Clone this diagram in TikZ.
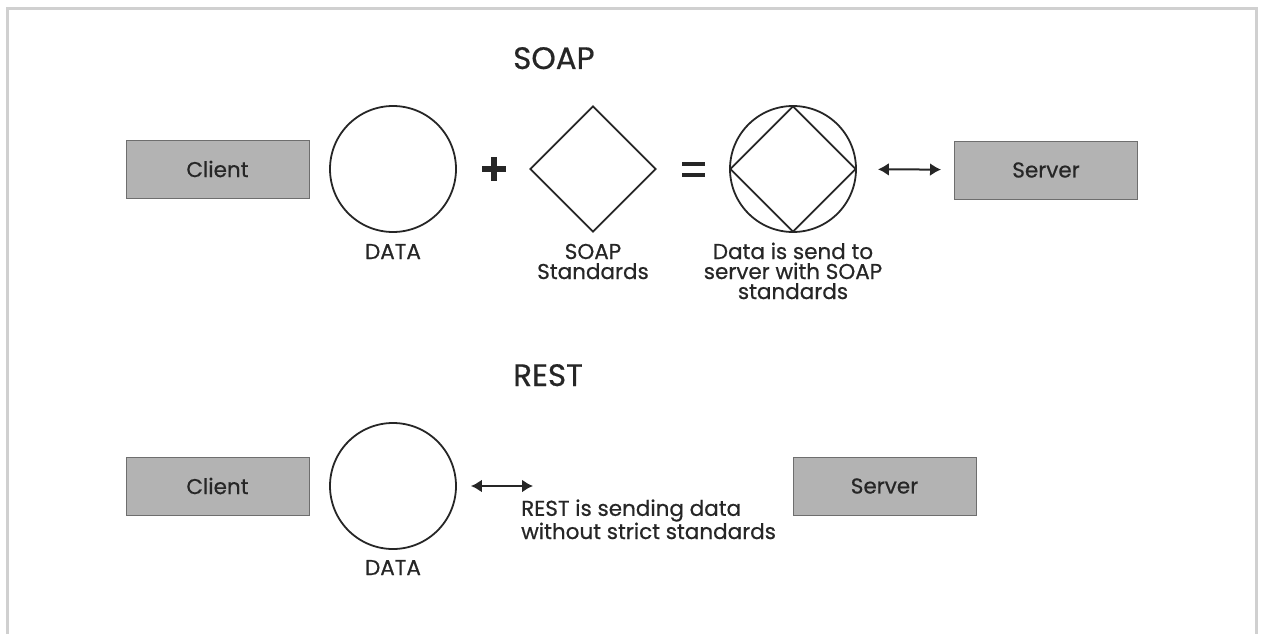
\documentclass[tikz,border=0pt]{standalone}
\usepackage{fontspec}
\setmainfont{Poppins}[FakeBold=0.6]
\usetikzlibrary{shapes.geometric,arrows.meta}
\definecolor{boxgray}{HTML}{B3B3B3}
\definecolor{boxedge}{HTML}{6E6E6E}
\definecolor{ink}{HTML}{262626}
\definecolor{framegray}{HTML}{D0D0D0}

\begin{document}
\begin{tikzpicture}[x=1pt, y=-1pt]
        \tikzstyle{every node}=[text=ink, inner sep=0pt]
        \tikzstyle{box}=[rectangle, fill=boxgray, draw=boxedge, line width=1pt, minimum width=183pt, minimum height=58pt, font=\fontsize{21.5}{22}\selectfont]
        \tikzstyle{blob}=[circle, draw=ink, line width=1.8pt, minimum size=126pt]
        \tikzstyle{rule}=[diamond, draw=ink, line width=1.8pt, minimum size=126pt]
        \tikzstyle{lbl}=[align=center, anchor=base, font=\fontsize{21.5}{20}\selectfont]
        \tikzstyle{title}=[anchor=base west, font=\fontsize{31}{32}\selectfont]
        \tikzstyle{link}=[draw=ink, line width=2pt, {Latex[length=11pt,width=13pt]}-{Latex[length=11pt,width=13pt]}]
        \useasboundingbox (0,0) rectangle (1263,634);
        \draw[framegray, line width=3pt] (7,634) -- (7,9) -- (1256,9) -- (1256,634);
        % SOAP
        \node [title] (soap) at (513,69) {SOAP};
        \node [box] (client1) at (217.5,169) {Client};
        \node [blob] (data1) at (393,169) {};
        \node [lbl] (data1lbl) at (393,259) {DATA};
        \draw [ink, line width=6pt] (482,169) -- (506,169) (494,157) -- (494,181);
        \node [rule] (std) at (593,169) {};
        \node [lbl] (stdlbl) at (593,279) {SOAP\\Standards};
        \draw [ink, line width=4pt] (682,164) -- (705,164) (682,175) -- (705,175);
        \node [blob] (enc) at (793,169) {};
        \node [rule] (encrule) at (793,169) {};
        \node [lbl] (enclbl) at (793,299) {Data is send to\\server with SOAP\\standards};
        \node [box] (server1) at (1046,170) {Server};
        \draw [link, shorten <=21pt, shorten >=13pt] (enc) -- (server1);
        % REST
        \node [title] (rest) at (513,386) {REST};
        \node [box] (client2) at (217.5,486) {Client};
        \node [blob] (data2) at (393,486) {};
        \node [lbl] (data2lbl) at (393,575) {DATA};
        \node [lbl, anchor=base west, align=left] (restlbl) at (521,539) {REST is sending data\\without strict standards};
        \coordinate (restend) at (533,486);
        \draw [link, shorten <=14pt] (data2) -- (restend);
        \node [box] (server2) at (884.5,486) {Server};
\end{tikzpicture}
\end{document}
